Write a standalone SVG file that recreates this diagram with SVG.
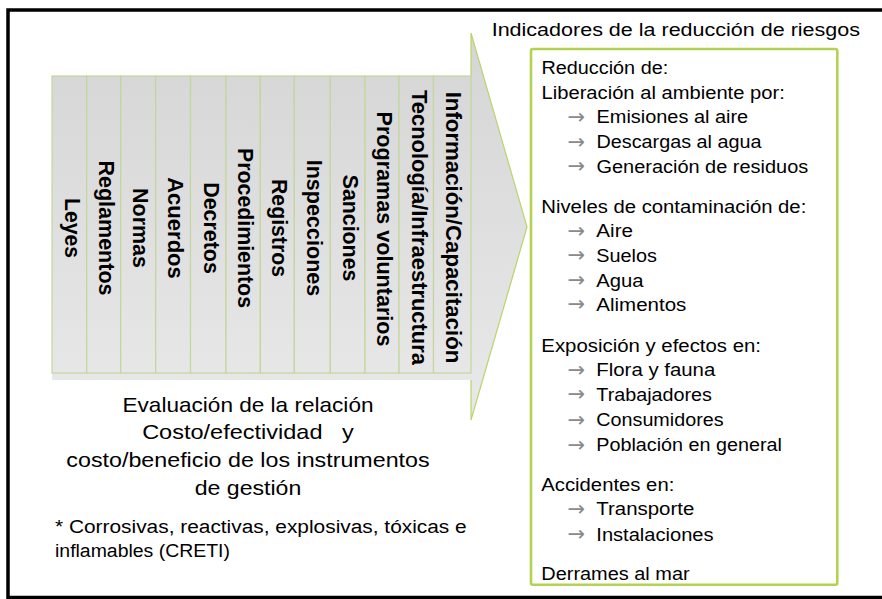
<svg xmlns="http://www.w3.org/2000/svg" width="882" height="599" viewBox="0 0 882 599">
<style>
.col{fill:url(#g);stroke:#c3d69b;stroke-width:1.2}
.ct{font-family:"Liberation Sans",Arial,sans-serif;font-size:22px;font-weight:bold;fill:#000;text-anchor:middle}
.bt{font-family:"Liberation Sans",Arial,sans-serif;font-size:17.5px;fill:#000}
.ar{font-family:"DejaVu Sans",sans-serif;font-size:21px;fill:#8a8a8a}
.ev{font-family:"Liberation Sans",Arial,sans-serif;font-size:21px;fill:#000;text-anchor:middle;white-space:pre}
.fn{font-family:"Liberation Sans",Arial,sans-serif;font-size:18px;fill:#000}
</style>
<defs>
<linearGradient id="g" gradientUnits="userSpaceOnUse" x1="0" y1="33" x2="0" y2="420">
<stop offset="0" stop-color="#d5d5d5"/>
<stop offset="1" stop-color="#e9e9e9"/>
</linearGradient>
</defs>
<rect x="0" y="0" width="882" height="599" fill="#fff"/>
<rect id="frame" x="8" y="10" width="882" height="587.5" fill="none" stroke="#000" stroke-width="3.5"/>

<g id="arrow">
<polygon points="52,76 471,76 471,33 527,227 471,420 471,380 52,380" fill="url(#g)" stroke="none"/>
<polyline points="471,76 471,33 527,227 471,420 471,380" fill="none" stroke="#b9d46a" stroke-width="1.2"/>
</g>

<g id="columns">
<g id="c-leyes"><rect class="col" x="52" y="76" width="34.7" height="297"/><text class="ct" transform="translate(64.5,228) rotate(90)" textLength="60" lengthAdjust="spacingAndGlyphs">Leyes</text></g>
<g id="c-reglamentos"><rect class="col" x="86.7" y="76" width="34" height="297"/><text class="ct" transform="translate(98.7,228) rotate(90)" textLength="135" lengthAdjust="spacingAndGlyphs">Reglamentos</text></g>
<g id="c-normas"><rect class="col" x="120.7" y="76" width="35" height="297"/><text class="ct" transform="translate(133.2,228) rotate(90)" textLength="80" lengthAdjust="spacingAndGlyphs">Normas</text></g>
<g id="c-acuerdos"><rect class="col" x="155.7" y="76" width="34.8" height="297"/><text class="ct" transform="translate(168.1,228) rotate(90)" textLength="101.7" lengthAdjust="spacingAndGlyphs">Acuerdos</text></g>
<g id="c-decretos"><rect class="col" x="190.5" y="76" width="35.5" height="297"/><text class="ct" transform="translate(203.6,228) rotate(90)" textLength="91.7" lengthAdjust="spacingAndGlyphs">Decretos</text></g>
<g id="c-procedimientos"><rect class="col" x="226" y="76" width="34.3" height="297"/><text class="ct" transform="translate(238,228) rotate(90)" textLength="160" lengthAdjust="spacingAndGlyphs">Procedimientos</text></g>
<g id="c-registros"><rect class="col" x="260.3" y="76" width="34" height="297"/><text class="ct" transform="translate(272.2,228) rotate(90)" textLength="98" lengthAdjust="spacingAndGlyphs">Registros</text></g>
<g id="c-inspecciones"><rect class="col" x="294.3" y="76" width="36" height="297"/><text class="ct" transform="translate(307.2,228) rotate(90)" textLength="136.7" lengthAdjust="spacingAndGlyphs">Inspecciones</text></g>
<g id="c-sanciones"><rect class="col" x="330.3" y="76" width="34.7" height="297"/><text class="ct" transform="translate(342.6,228) rotate(90)" textLength="106.7" lengthAdjust="spacingAndGlyphs">Sanciones</text></g>
<g id="c-programas"><rect class="col" x="365" y="76" width="34" height="297"/><text class="ct" transform="translate(376.9,229) rotate(90)" textLength="235" lengthAdjust="spacingAndGlyphs">Programas voluntarios</text></g>
<g id="c-tecnologia"><rect class="col" x="399" y="76" width="34.5" height="297"/><text class="ct" transform="translate(411.8,227.5) rotate(90)" textLength="275" lengthAdjust="spacingAndGlyphs">Tecnología/Infraestructura</text></g>
<g id="c-informacion"><rect class="col" x="433.5" y="76" width="37.5" height="297"/><text class="ct" transform="translate(445.7,227.5) rotate(90)" textLength="271.7" lengthAdjust="spacingAndGlyphs">Información/Capacitación</text></g>
</g>

<g id="evaluacion">
<text class="ev" x="248" y="412.3" textLength="251" lengthAdjust="spacingAndGlyphs">Evaluación de la relación</text>
<text class="ev" x="248" y="439.3" textLength="211.7" lengthAdjust="spacingAndGlyphs" xml:space="preserve">Costo/efectividad   y</text>
<text class="ev" x="248" y="467.3" textLength="363.3" lengthAdjust="spacingAndGlyphs">costo/beneficio de los instrumentos</text>
<text class="ev" x="248" y="495" textLength="106.7" lengthAdjust="spacingAndGlyphs">de gestión</text>
</g>

<g id="nota">
<text class="fn" x="55" y="532.7" textLength="411.7" lengthAdjust="spacingAndGlyphs">* Corrosivas, reactivas, explosivas, tóxicas e</text>
<text class="fn" x="55" y="556.7" textLength="175" lengthAdjust="spacingAndGlyphs">inflamables (CRETI)</text>
</g>

<g id="indicadores">
<text class="bt" x="491.7" y="36" textLength="368.3" lengthAdjust="spacingAndGlyphs">Indicadores de la reducción de riesgos</text>
<rect x="531" y="49" width="306.3" height="535.7" rx="2" fill="#fff" stroke="#b2d250" stroke-width="2.6"/>
<text class="bt" x="541.5" y="74" textLength="126.7" lengthAdjust="spacingAndGlyphs">Reducción de:</text>
<text class="bt" x="541.5" y="98.5" textLength="243.3" lengthAdjust="spacingAndGlyphs">Liberación al ambiente por:</text>
<text class="ar" x="567.5" y="123.5">→</text>
<text class="bt" x="596.5" y="123" textLength="151.7" lengthAdjust="spacingAndGlyphs">Emisiones al aire</text>
<text class="ar" x="567.5" y="148.5">→</text>
<text class="bt" x="596.5" y="148" textLength="165" lengthAdjust="spacingAndGlyphs">Descargas al agua</text>
<text class="ar" x="567.5" y="173">→</text>
<text class="bt" x="596.5" y="172.5" textLength="211.7" lengthAdjust="spacingAndGlyphs">Generación de residuos</text>

<text class="bt" x="541.3" y="212.7" textLength="265" lengthAdjust="spacingAndGlyphs">Niveles de contaminación de:</text>
<text class="ar" x="567.5" y="237.8">→</text>
<text class="bt" x="596.3" y="237.3" textLength="36.7" lengthAdjust="spacingAndGlyphs">Aire</text>
<text class="ar" x="567.5" y="262.2">→</text>
<text class="bt" x="596.3" y="261.7" textLength="60.7" lengthAdjust="spacingAndGlyphs">Suelos</text>
<text class="ar" x="567.5" y="287">→</text>
<text class="bt" x="596.3" y="286.5" textLength="47.3" lengthAdjust="spacingAndGlyphs">Agua</text>
<text class="ar" x="567.5" y="311.2">→</text>
<text class="bt" x="596.3" y="310.7" textLength="90" lengthAdjust="spacingAndGlyphs">Alimentos</text>

<text class="bt" x="541.3" y="351.7" textLength="219.7" lengthAdjust="spacingAndGlyphs">Exposición y efectos en:</text>
<text class="ar" x="567.5" y="376.5">→</text>
<text class="bt" x="596.3" y="376" textLength="119" lengthAdjust="spacingAndGlyphs">Flora y fauna</text>
<text class="ar" x="567.5" y="401.2">→</text>
<text class="bt" x="596.3" y="400.7" textLength="115.7" lengthAdjust="spacingAndGlyphs">Trabajadores</text>
<text class="ar" x="567.5" y="426.5">→</text>
<text class="bt" x="596.3" y="426" textLength="127.3" lengthAdjust="spacingAndGlyphs">Consumidores</text>
<text class="ar" x="567.5" y="451.8">→</text>
<text class="bt" x="596.3" y="451.3" textLength="185.7" lengthAdjust="spacingAndGlyphs">Población en general</text>

<text class="bt" x="541.3" y="490.7" textLength="133" lengthAdjust="spacingAndGlyphs">Accidentes en:</text>
<text class="ar" x="567.5" y="515.5">→</text>
<text class="bt" x="596.3" y="515" textLength="98" lengthAdjust="spacingAndGlyphs">Transporte</text>
<text class="ar" x="567.5" y="541">→</text>
<text class="bt" x="596.3" y="540.5" textLength="117.3" lengthAdjust="spacingAndGlyphs">Instalaciones</text>

<text class="bt" x="541.3" y="580" textLength="148.3" lengthAdjust="spacingAndGlyphs">Derrames al mar</text>
</g>
</svg>
